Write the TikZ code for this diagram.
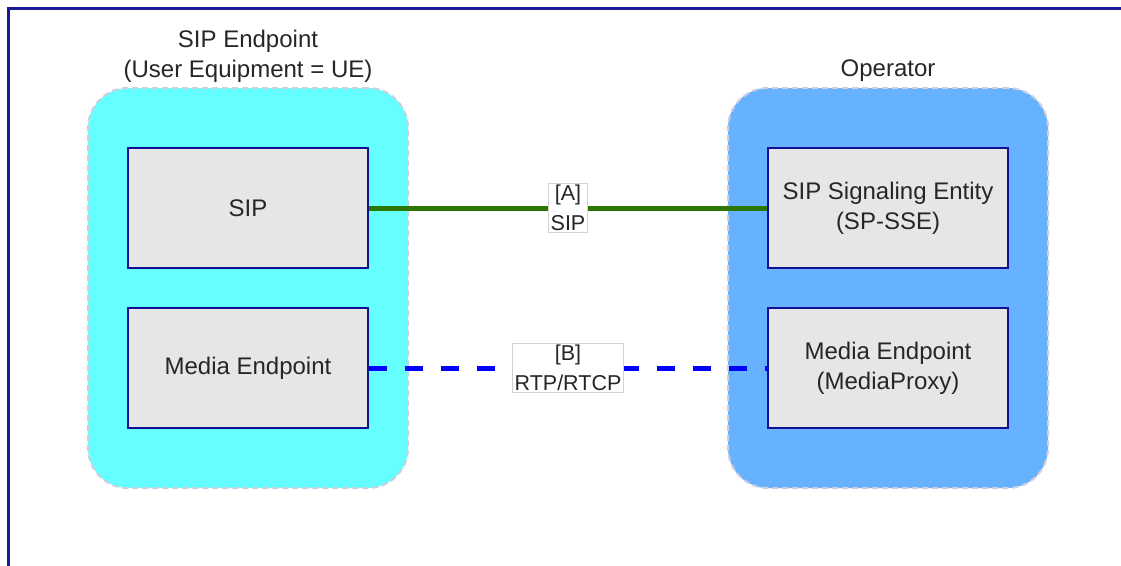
\documentclass[tikz,border=0pt]{standalone}
\usepackage{fontspec}
\setmainfont{Liberation Sans}
\usetikzlibrary{positioning}
\definecolor{frameblue}{HTML}{1A1A99}
\definecolor{uecyan}{HTML}{66FFFF}
\definecolor{opblue}{HTML}{66B2FF}
\definecolor{boxgray}{HTML}{E6E6E6}
\definecolor{boxline}{HTML}{101095}
\definecolor{sipgreen}{HTML}{2D7600}
\definecolor{rtpblue}{HTML}{0000FF}
\definecolor{dashgray}{HTML}{CFCCDD}
\tikzset{
	group/.style={draw=dashgray, line width=2pt, dash pattern=on 6pt off 4pt,
		rounded corners=40pt, minimum width=320pt, minimum height=400pt, inner sep=0pt},
	entity/.style={draw=boxline, line width=1.6pt, fill=boxgray, text=black!85,
		minimum width=240pt, minimum height=120pt, align=center,
		font=\fontsize{24}{30}\selectfont},
	grouptitle/.style={align=center, text=black!85, font=\fontsize{24}{30}\selectfont},
	linklabel/.style={draw=black!18, line width=1pt, solid, fill=white, text=black!85,
		align=center, inner sep=2pt, font=\fontsize{21.5}{30}\selectfont},
	siplink/.style={sipgreen, line width=5pt},
	medialink/.style={rtpblue, line width=5pt, dash pattern=on 18pt off 18pt},
}
\begin{document}
\begin{tikzpicture}[x=1pt,y=-1pt]
\path[use as bounding box, clip] (0,0) rectangle (1121,565);
%%% outer frame (only top and left edges are visible)
\draw[frameblue, line width=3pt] (8,8) rectangle (1160,620);
%%% groups
\node[group, fill=uecyan] (ue) at (248,288) {};
\node[group, fill=opblue] (op) at (888,288) {};
\node[grouptitle] (uetitle) at (248,56) {SIP Endpoint\\(User Equipment = UE)};
\node[grouptitle] (optitle) at (888,71) {Operator};
%%% entities
\node[entity] (sip) at (248,208) {SIP};
\node[entity] (uemedia) at (248,368) {Media Endpoint};
\node[entity] (sse) at (888,208) {SIP Signaling Entity\\(SP-SSE)};
\node[entity] (proxy) at (888,368) {Media Endpoint\\(MediaProxy)};
%%% links
\draw[siplink] (sip) -- node[linklabel] (lblA) {[A]\\SIP} (sse);
\draw[medialink] (uemedia) -- node[linklabel] (lblB) {[B]\\RTP/RTCP} (proxy);
\end{tikzpicture}
\end{document}
